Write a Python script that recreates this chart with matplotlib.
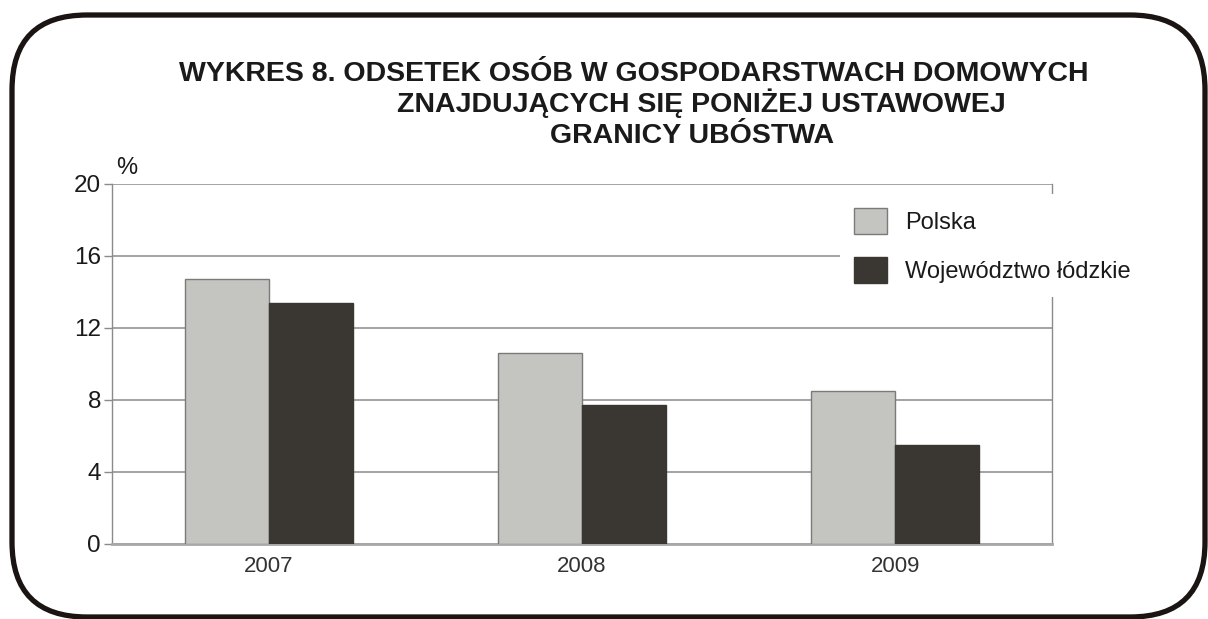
import matplotlib
matplotlib.use('Agg')
import matplotlib.pyplot as plt
import numpy as np
from matplotlib.patches import FancyBboxPatch, Patch

# data
years = ['2007', '2008', '2009']
polska = [14.7, 10.6, 8.5]
lodzkie = [13.4, 7.7, 5.5]
series_labels = ['Polska', 'Województwo łódzkie']
title_lines = ['WYKRES 8. ODSETEK OSÓB W GOSPODARSTWACH DOMOWYCH',
               'ZNAJDUJĄCYCH SIĘ PONIŻEJ USTAWOWEJ',
               'GRANICY UBÓSTWA']
y_ticks = [0, 4, 8, 12, 16, 20]

plt.rcParams['font.family'] = ['Liberation Sans', 'DejaVu Sans']

W, H = 1208, 619
fig = plt.figure(figsize=(W / 100, H / 100), dpi=100)

# rounded black frame around everything (in inches)
frame = FancyBboxPatch((12 / 100, (H - 617) / 100), (1205 - 12) / 100, (617 - 15) / 100,
                       boxstyle='round,pad=0,rounding_size=0.75',
                       transform=fig.dpi_scale_trans, facecolor='none',
                       edgecolor='#1a1512', linewidth=3.8, zorder=0)
fig.patches.append(frame)

# title lines (centre x, baseline y in pixels)
title_pos = [(634, 81), (701, 112), (692, 143)]
for line, (px, py) in zip(title_lines, title_pos):
    fig.text(px / W, 1 - py / H, line, ha='center', va='baseline',
             fontsize=20.5, fontweight='bold', color='#1a1a1a')

ax = fig.add_axes([112 / W, 1 - 544 / H, (1052 - 112) / W, (544 - 184) / H])

x = np.arange(len(years))
w = 0.268
light = '#c4c4c0'
dark = '#3a3632'
ax.bar(x - w / 2, polska, w, color=light, edgecolor='#7a7a7a', linewidth=1.0, zorder=3)
ax.bar(x + w / 2, lodzkie, w, color=dark, edgecolor='#3a3632', linewidth=1.0, zorder=3)

ax.set_xlim(-0.5, 2.5)
ax.set_ylim(0, 20)
ax.set_yticks(y_ticks)
ax.set_xticks(x)
ax.set_xticklabels(years)
ax.yaxis.grid(True, color='#8a8a8a', linewidth=1.1, zorder=0)
ax.set_axisbelow(True)

for side in ['left', 'right']:
    ax.spines[side].set_color('#8a8a8a')
    ax.spines[side].set_linewidth(1.0)
ax.spines['top'].set_visible(False)
ax.spines['bottom'].set_color('#a8a8a8')
ax.spines['bottom'].set_linewidth(2.0)

ax.tick_params(axis='y', length=6, width=1, color='#8a8a8a', pad=2,
               labelsize=17.5, labelcolor='#1a1a1a')
ax.tick_params(axis='x', length=0, pad=9, labelsize=16, labelcolor='#333333')

ax.text(127 / W, 1 - 168 / H, '%', transform=fig.transFigure, ha='center', va='center',
        fontsize=17, color='#1a1a1a')

handles = [Patch(facecolor=light, edgecolor='#7a7a7a'),
           Patch(facecolor=dark, edgecolor=dark)]
leg = ax.legend(handles, series_labels, loc='upper left',
                bbox_to_anchor=(840 / W, 1 - 194 / H), bbox_transform=fig.transFigure,
                frameon=True, facecolor='white', edgecolor='none', framealpha=1,
                fancybox=False, fontsize=17, handlelength=1.4, handleheight=1.3,
                handletextpad=0.75, labelspacing=0.98, borderpad=0.6,
                borderaxespad=0)
for t in leg.get_texts():
    t.set_color('#1a1a1a')

fig.savefig('out.png', dpi=100)
